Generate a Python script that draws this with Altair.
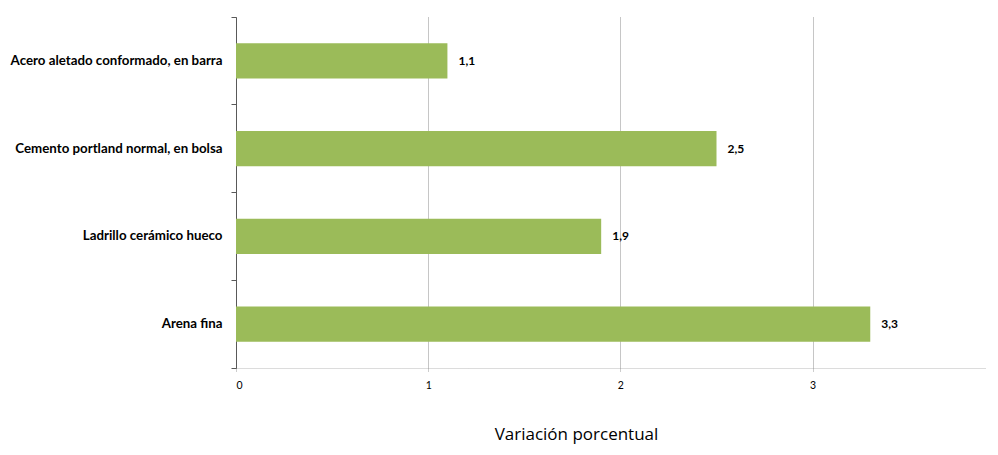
import altair as alt
import pandas as pd

categories = ["Acero aletado conformado, en barra", "Cemento portland normal, en bolsa",
              "Ladrillo cerámico hueco", "Arena fina "]
values = [1.1, 2.5, 1.9, 3.3]
value_labels = ["1,1", "2,5", "1,9", "3,3"]
x_ticks = [0, 1, 2, 3]

df = pd.DataFrame({"cat": categories, "val": values, "lab": value_labels})

FONT = "Lato"
PLOT_W = 750
X_MAX = PLOT_W / 192.2

x_enc = alt.X("val:Q",
              scale=alt.Scale(domain=[0, X_MAX], nice=False, zero=True),
              axis=alt.Axis(values=x_ticks, format="d", grid=True,
                            gridDash=[1, 1], gridColor="#8c8c8c", gridWidth=1,
                            domainDash=[1, 1], domainColor="#b8b8b8",
                            tickDash=[1, 1], tickColor="#9a9a9a", tickSize=3,
                            labelPadding=9, labelFont=FONT, labelFontSize=10.5,
                            labelColor="#000000", labelBaseline="top",
                            title="Variación porcentual", titleFont="Open Sans",
                            titleFontSize=17, titleFontWeight="normal",
                            titleColor="#000000", titleX=340, titleY=71,
                            titleAlign="center", titleBaseline="alphabetic"))

y_enc = alt.Y("cat:N", sort=categories,
              scale=alt.Scale(paddingInner=0, paddingOuter=0),
              axis=alt.Axis(title=None, bandPosition=1, tickExtra=True,
                            domainColor="#595959", tickColor="#595959",
                            tickSize=5, labelPadding=9, labelFont=FONT,
                            labelFontSize=13.3, labelFontWeight="bold",
                            labelColor="#000000", labelLimit=400, grid=False))

bars = alt.Chart(df).mark_bar(height=alt.RelativeBandSize(0.4), color="#9BBB59").encode(
    x=x_enc, y=y_enc)

text = alt.Chart(df).mark_text(align="left", baseline="middle", dx=11, font=FONT,
                               fontSize=12, fontWeight="bold", color="#000000").encode(
    x="val:Q", y=alt.Y("cat:N", sort=categories), text="lab:N")

chart = (bars + text).properties(
    width=PLOT_W, height=351,
    autosize=alt.AutoSizeParams(type="none"),
    padding={"left": 228, "top": 9, "right": 0, "bottom": 78},
).configure_view(stroke=None)

chart.save("out.html", embed_options={"renderer": "svg", "actions": False})
